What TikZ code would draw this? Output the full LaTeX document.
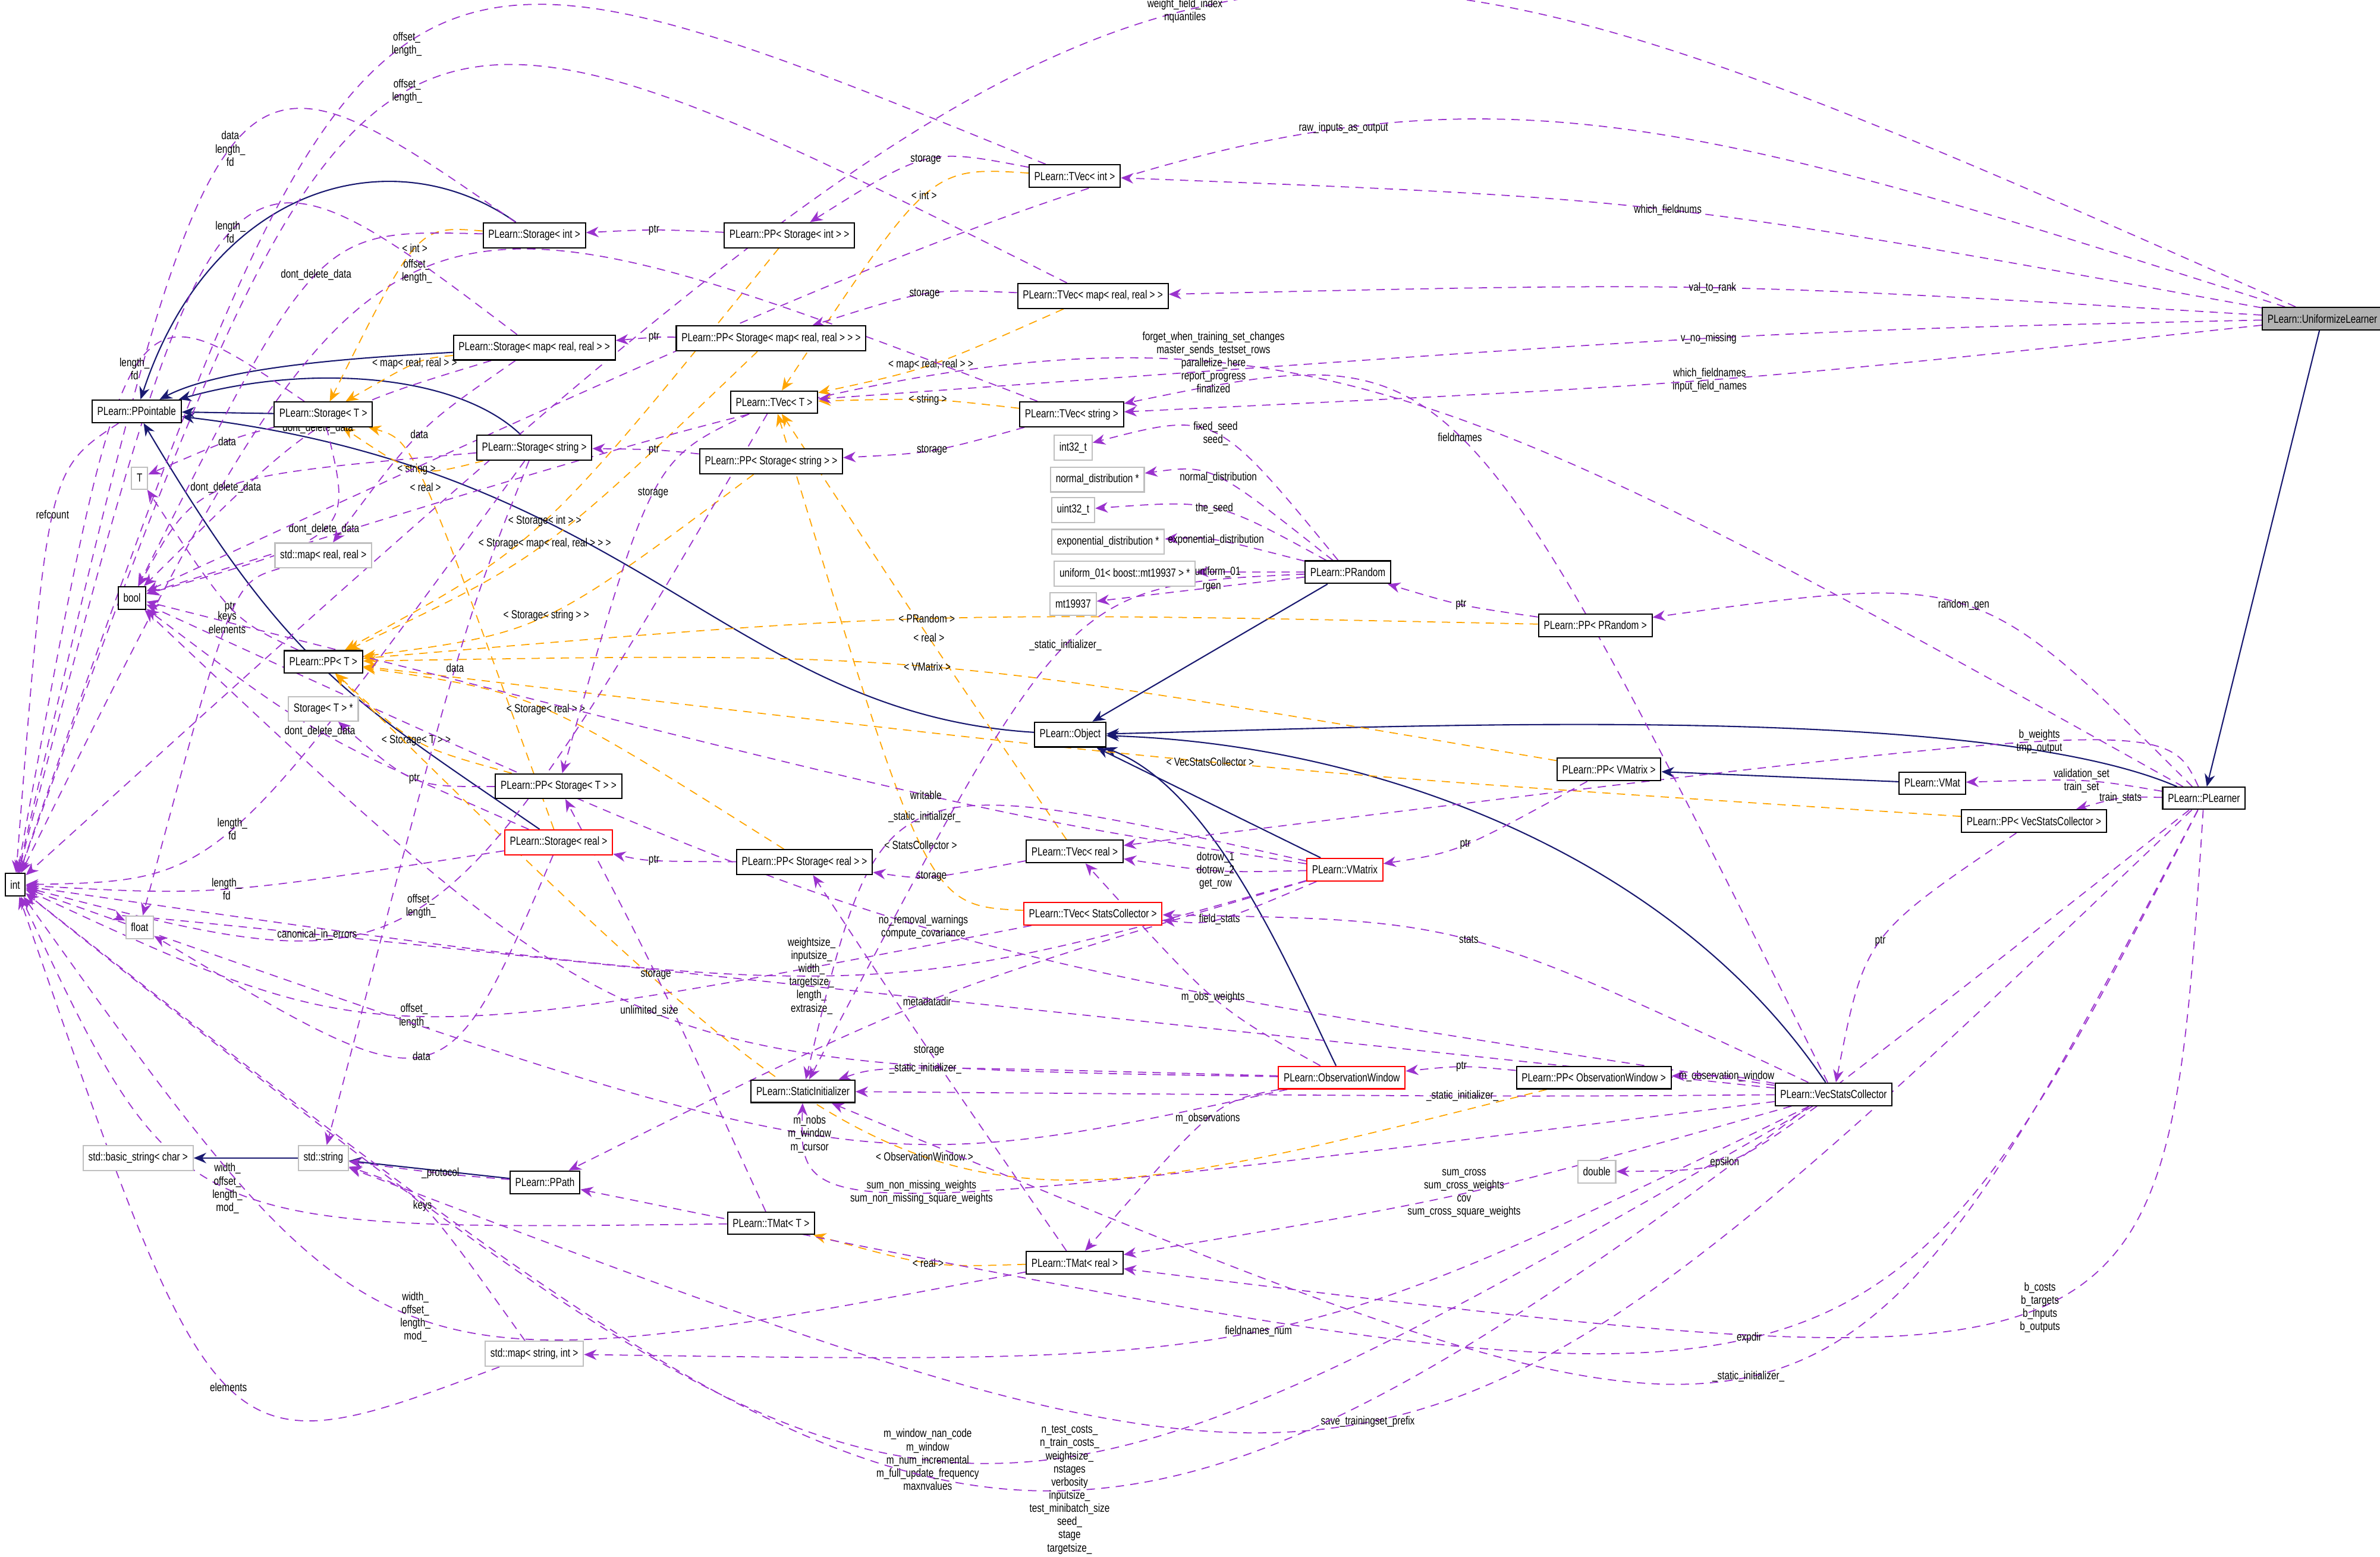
\documentclass[tikz,border=0pt]{standalone}
\usepackage{fontspec}
\setmainfont{Liberation Sans}[FakeStretch=0.78]
\usetikzlibrary{arrows.meta,calc}
\definecolor{pur}{HTML}{9A32CD}
\definecolor{org}{HTML}{FFA500}
\definecolor{nav}{HTML}{191970}
\pgfdeclarelayer{edges}
\pgfsetlayers{edges,main}
\tikzset{
 box/.style={draw=black,line width=0.6pt,fill=white,font=\fontsize{5.6}{6.5}\selectfont,inner xsep=2.5pt,minimum height=0.33cm},
 rbox/.style={box,draw=red},
 gbox/.style={box,draw=gray!50},
 lbl/.style={font=\fontsize{5.6}{6.3}\selectfont,align=center,inner sep=1pt,text=black},
 use/.style={pur,line width=0.5pt,dash pattern=on 4pt off 3pt,-{Stealth[length=6pt,width=5pt]}},
 tpl/.style={org,line width=0.5pt,dash pattern=on 4pt off 3pt,-{Stealth[length=6pt,width=5pt]}},
 inh/.style={nav,line width=0.6pt,-{Stealth[length=6pt,width=5pt]}}
}
\newcommand\lk[5]{\begin{pgfonlayer}{edges}\coordinate (tmpL) at (#3);
 \draw[#1] let \p0=(tmpL),\p1=(#2),\p2=(#4) in (#2) .. controls ({(8*\x0-\x1-\x2)/6},{(8*\y0-\y1-\y2)/6}) and ({(8*\x0-\x1-\x2)/6},{(8*\y0-\y1-\y2)/6}) .. (#4) node[lbl,pos=0.5]{#5};\end{pgfonlayer}}
\begin{document}
\begin{tikzpicture}[x=0.02553cm,y=-0.02553cm]
\useasboundingbox (0,0) rectangle (1568,1025.5);
\begin{pgfonlayer}{edges}\fill[white] (0,0) rectangle (1568,1025.5);\end{pgfonlayer}
% nodes
\node[box,fill=gray!60] (UL) at (1530,210) {PLearn::UniformizeLearner};
\node[box] (TVi) at (708,116) {PLearn::TVec< int >};
\node[box] (Si) at (352,155) {PLearn::Storage< int >};
\node[box] (PPSi) at (520,155) {PLearn::PP< Storage< int > >};
\node[box] (TVm) at (720,195) {PLearn::TVec< map< real, real > >};
\node[box] (Sm) at (352,229) {PLearn::Storage< map< real, real > >};
\node[box] (PPSm) at (508,223) {PLearn::PP< Storage< map< real, real > > >};
\node[box] (PPo) at (90,271) {PLearn::PPointable};
\node[box] (ST) at (213,273) {PLearn::Storage< T >};
\node[box] (TVT) at (510,265) {PLearn::TVec< T >};
\node[box] (TVs) at (706,273) {PLearn::TVec< string >};
\node[box] (Ss) at (352,295) {PLearn::Storage< string >};
\node[box] (PPSs) at (508,304) {PLearn::PP< Storage< string > >};
\node[gbox] (T) at (92,315) {T};
\node[gbox] (i32) at (707,295) {int32\_t};
\node[gbox] (nd) at (723,316) {normal\_distribution *};
\node[gbox] (u32) at (707,336) {uint32\_t};
\node[gbox] (ed) at (730,357) {exponential\_distribution *};
\node[gbox] (u01) at (741,378) {uniform\_01< boost::mt19937 > *};
\node[gbox] (mt) at (707,398) {mt19937};
\node[gbox] (smr) at (213,366) {std::map< real, real >};
\node[box] (PR) at (888,377) {PLearn::PRandom};
\node[box] (PPR) at (1051,412) {PLearn::PP< PRandom >};
\node[box] (bool) at (87,394) {bool};
\node[box] (PPT) at (213,436) {PLearn::PP< T >};
\node[gbox] (STp) at (213,467) {Storage< T > *};
\node[box] (Obj) at (705,484) {PLearn::Object};
\node[box] (PPVM) at (1060,507) {PLearn::PP< VMatrix >};
\node[box] (VMat) at (1273,516) {PLearn::VMat};
\node[box] (PL) at (1452,526) {PLearn::PLearner};
\node[box] (PPVS) at (1340,541) {PLearn::PP< VecStatsCollector >};
\node[box] (PPST) at (368,518) {PLearn::PP< Storage< T > >};
\node[rbox] (Sr) at (368,555) {PLearn::Storage< real >};
\node[box] (TVr) at (708,561) {PLearn::TVec< real >};
\node[box] (PPSr) at (530,568) {PLearn::PP< Storage< real > >};
\node[rbox] (VM) at (886,573) {PLearn::VMatrix};
\node[rbox] (TVSC) at (720,602) {PLearn::TVec< StatsCollector >};
\node[box] (int) at (10,583) {int};
\node[gbox] (float) at (92,611) {float};
\node[box] (SI) at (529,719) {PLearn::StaticInitializer};
\node[rbox] (OW) at (884,710) {PLearn::ObservationWindow};
\node[box] (PPOW) at (1050,710) {PLearn::PP< ObservationWindow >};
\node[box] (VSC) at (1208,721) {PLearn::VecStatsCollector};
\node[gbox] (dbl) at (1052,772) {double};
\node[gbox] (bs) at (91,763) {std::basic\_string< char >};
\node[gbox] (str) at (213,763) {std::string};
\node[box] (PPath) at (359,779) {PLearn::PPath};
\node[box] (TMT) at (508,806) {PLearn::TMat< T >};
\node[box] (TMr) at (708,832) {PLearn::TMat< real >};
\node[gbox] (msi) at (352,892) {std::map< string, int >};
% inheritance
\begin{pgfonlayer}{edges}
\draw[inh] (Si) .. controls (260,90) and (140,120) .. (PPo);
\draw[inh] (Sm) .. controls (250,235) and (150,240) .. (PPo);
\draw[inh] (ST) -- (PPo);
\draw[inh] (Ss) .. controls (300,245) and (200,240) .. (PPo);
\draw[inh] (Sr) .. controls (230,460) and (190,440) .. (PPo);
\draw[inh] (Obj) .. controls (480,470) and (420,310) .. (PPo);
\draw[inh] (PR) -- (Obj);
\draw[inh] (PL) .. controls (1300,460) and (900,480) .. (Obj);
\draw[inh] (VM) -- (Obj);
\draw[inh] (OW) .. controls (850,640) and (800,520) .. (Obj);
\draw[inh] (VSC) .. controls (1100,560) and (900,490) .. (Obj);
\draw[inh] (UL) -- (PL);
\draw[inh] (VMat) -- (PPVM);
\draw[inh] (str) -- (bs);
\draw[inh] (PPath) -- (str);
\end{pgfonlayer}
% templates
\lk{tpl}{Si}{277,165}{ST}{< int >}
\lk{tpl}{Sm}{278,240}{ST}{< map< real, real > >}
\lk{tpl}{Ss}{277,307}{ST}{< string >}
\lk{tpl}{Sr}{277,321}{ST}{< real >}
\lk{tpl}{TVi}{612,130}{TVT}{< int >}
\lk{tpl}{TVm}{612,240}{TVT}{< map< real, real > >}
\lk{tpl}{TVs}{612,264}{TVT}{< string >}
\lk{tpl}{TVr}{612,420}{TVT}{< real >}
\lk{tpl}{TVSC}{612,556}{TVT}{< StatsCollector >}
\lk{tpl}{PPSi}{358,343}{PPT}{< Storage< int > >}
\lk{tpl}{PPSm}{358,358}{PPT}{< Storage< map< real, real > > >}
\lk{tpl}{PPSs}{358,405}{PPT}{< Storage< string > >}
\lk{tpl}{PPST}{277,488}{PPT}{< Storage< T > >}
\lk{tpl}{PPSr}{358,468}{PPT}{< Storage< real > >}
\lk{tpl}{PPR}{612,408}{PPT}{< PRandom >}
\lk{tpl}{PPVM}{612,440}{PPT}{< VMatrix >}
\lk{tpl}{PPVS}{800,502}{PPT}{< VecStatsCollector >}
\lk{tpl}{PPOW}{612,760}{PPT}{< ObservationWindow >}
\lk{tpl}{TMr}{612,831}{TMT}{< real >}
% usage
\lk{use}{TVi}{612,107}{PPSi}{storage}
\lk{use}{TVi}{270,31}{int}{offset\_\\length\_}
\lk{use}{TVm}{612,195}{PPSm}{storage}
\lk{use}{TVm}{270,62}{int}{offset\_\\length\_}
\lk{use}{TVs}{612,296}{PPSs}{storage}
\lk{use}{TVs}{277,181}{int}{offset\_\\length\_}
\lk{use}{TVr}{612,576}{PPSr}{storage}
\lk{use}{TVT}{277,596}{int}{offset\_\\length\_}
\lk{use}{TVSC}{277,668}{int}{offset\_\\length\_}
\lk{use}{TVT}{432,325}{PPST}{storage}
\lk{use}{TMr}{612,692}{PPSr}{storage}
\lk{use}{TMT}{432,642}{PPST}{storage}
\lk{use}{PPSi}{432,152}{Si}{ptr}
\lk{use}{PPSm}{432,223}{Sm}{ptr}
\lk{use}{PPSs}{432,297}{Ss}{ptr}
\lk{use}{PPSr}{432,566}{Sr}{ptr}
\lk{use}{PPST}{277,512}{STp}{ptr}
\lk{use}{PPT}{153,400}{T}{ptr}
\lk{use}{Si}{153,100}{int}{data\\length\_\\fd}
\lk{use}{Si}{212,182}{bool}{dont\_delete\_data}
\lk{use}{Sm}{153,155}{int}{length\_\\fd}
\lk{use}{Sm}{212,282}{bool}{dont\_delete\_data}
\lk{use}{Sm}{277,286}{smr}{data}
\lk{use}{ST}{153,290}{T}{data}
\lk{use}{ST}{90,245}{int}{length\_\\fd}
\lk{use}{ST}{212,348}{bool}{dont\_delete\_data}
\lk{use}{Ss}{153,322}{bool}{dont\_delete\_data}
\lk{use}{Ss}{300,440}{str}{data}
\lk{use}{Ss}{153,545}{int}{length\_\\fd}
\lk{use}{Sr}{212,482}{bool}{dont\_delete\_data}
\lk{use}{Sr}{153,585}{int}{length\_\\fd}
\lk{use}{Sr}{277,694}{float}{data}
\lk{use}{PPo}{36,339}{int}{refcount}
\lk{use}{smr}{153,410}{float}{keys\\elements}
\lk{use}{PR}{800,287}{i32}{fixed\_seed\\seed\_}
\lk{use}{PR}{800,316}{nd}{normal\_distribution}
\lk{use}{PR}{800,336}{u32}{the\_seed}
\lk{use}{PR}{800,357}{ed}{exponential\_distribution}
\lk{use}{PR}{800,377}{u01}{uniform\_01}
\lk{use}{PR}{800,387}{mt}{rgen}
\lk{use}{PR}{705,426}{SI}{\_static\_initializer\_}
\lk{use}{PPR}{964,398}{PR}{ptr}
\lk{use}{PL}{1290,400}{PPR}{random\_gen}
\lk{use}{PPVM}{964,556}{VM}{ptr}
\lk{use}{PL}{1372,515}{VMat}{validation\_set\\train\_set}
\lk{use}{PL}{1397,527}{PPVS}{train\_stats}
\lk{use}{PPVS}{1240,620}{VSC}{ptr}
\lk{use}{VM}{800,573}{TVr}{dotrow\_1\\dotrow\_2\\get\_row}
\lk{use}{VM}{800,604}{TVSC}{field\_stats}
\lk{use}{VM}{612,660}{PPath}{metadatadir}
\lk{use}{VM}{537,642}{int}{weightsize\_\\inputsize\_\\width\_\\targetsize\_\\length\_\\extrasize\_}
\lk{use}{VM}{612,524}{bool}{writable}
\lk{use}{VM}{612,540}{SI}{\_static\_initializer\_}
\lk{use}{VSC}{958,290}{TVs}{fieldnames}
\lk{use}{VSC}{964,620}{TVSC}{stats}
\lk{use}{VSC}{1136,710}{PPOW}{m\_observation\_window}
\lk{use}{VSC}{1136,765}{dbl}{epsilon}
\lk{use}{VSC}{964,786}{TMr}{sum\_cross\\sum\_cross\_weights\\cov\\sum\_cross\_square\_weights}
\lk{use}{VSC}{964,722}{SI}{\_static\_initializer\_}
\lk{use}{VSC}{612,611}{bool}{no\_removal\_warnings\\compute\_covariance}
\lk{use}{VSC}{612,960}{int}{m\_window\_nan\_code\\m\_window\\m\_num\_incremental\\m\_full\_update\_frequency\\maxnvalues}
\lk{use}{VSC}{827,876}{msi}{fieldnames\_num}
\lk{use}{VSC}{612,784}{SI}{sum\_non\_missing\_weights\\sum\_non\_missing\_square\_weights}
\lk{use}{PPOW}{964,704}{OW}{ptr}
\lk{use}{OW}{800,737}{TMr}{m\_observations}
\lk{use}{OW}{537,746}{int}{m\_nobs\\m\_window\\m\_cursor}
\lk{use}{OW}{800,657}{TVr}{m\_obs\_weights}
\lk{use}{OW}{432,665}{bool}{unlimited\_size}
\lk{use}{OW}{612,705}{SI}{\_static\_initializer\_}
\lk{use}{PL}{800,240}{bool}{forget\_when\_training\_set\_changes\\master\_sends\_testset\_rows\\parallelize\_here\\report\_progress\\finalized}
\lk{use}{PL}{1340,490}{TVr}{b\_weights\\tmp\_output}
\lk{use}{PL}{1340,860}{TMr}{b\_costs\\b\_targets\\b\_inputs\\b\_outputs}
\lk{use}{PL}{1150,880}{PPath}{expdir}
\lk{use}{PL}{900,935}{str}{save\_trainingset\_prefix}
\lk{use}{PL}{1150,905}{SI}{\_static\_initializer\_}
\lk{use}{PL}{705,980}{int}{n\_test\_costs\_\\n\_train\_costs\_\\weightsize\_\\nstages\\verbosity\\inputsize\_\\test\_minibatch\_size\\seed\_\\stage\\targetsize\_}
\lk{use}{UL}{782,9}{int}{weight\_field\_index\\nquantiles}
\lk{use}{UL}{887,86}{bool}{raw\_inputs\_as\_output}
\lk{use}{UL}{1100,139}{TVi}{which\_fieldnums}
\lk{use}{UL}{1127,190}{TVm}{val\_to\_rank}
\lk{use}{UL}{1127,223}{TVT}{v\_no\_missing}
\lk{use}{UL}{1127,250}{TVs}{which\_fieldnames\\input\_field\_names}
\lk{use}{PPath}{291,773}{str}{\_protocol}
\lk{use}{TMT}{153,782}{int}{width\_\\offset\_\\length\_\\mod\_}
\lk{use}{TMr}{277,866}{int}{width\_\\offset\_\\length\_\\mod\_}
\lk{use}{msi}{153,912}{int}{elements}
\lk{use}{msi}{277,795}{str}{keys}
\lk{use}{VSC}{215,617}{float}{canonical\_in\_errors}
\end{tikzpicture}
\end{document}
